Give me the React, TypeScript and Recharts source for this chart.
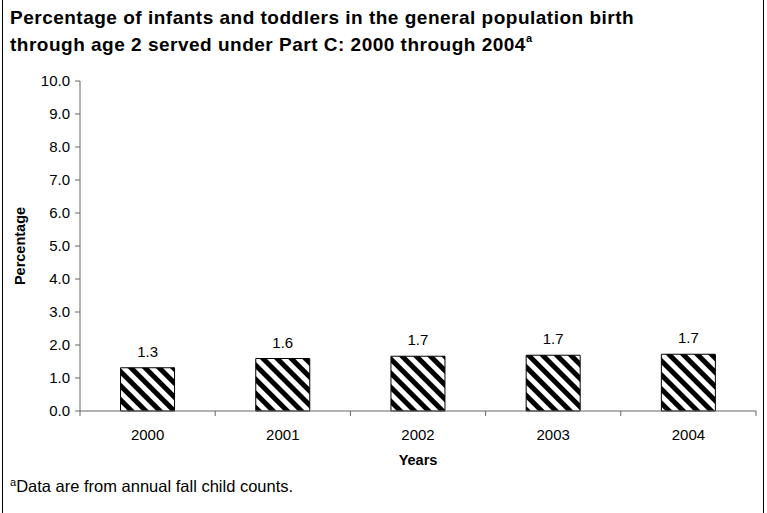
import React from "react";
import { BarChart, Bar, XAxis, YAxis, LabelList } from "recharts";

const years = ["2000", "2001", "2002", "2003", "2004"];
const percentages = [1.31, 1.59, 1.66, 1.69, 1.72];
const yTicks = [0, 1, 2, 3, 4, 5, 6, 7, 8, 9, 10];

const W = 767;
const H = 513;
const PLOT_LEFT = 80;
const PLOT_RIGHT = 756;
const FONT = "'Liberation Sans', Arial, sans-serif";

const data = years.map((year, i) => ({ year, value: percentages[i] }));

const halfBand = (PLOT_RIGHT - PLOT_LEFT) / years.length / 2;

// category ticks sit between the bars, like the original Excel chart
function YearTick(props: any) {
  const { x, y, payload, index } = props;
  const axisY = y - 24;
  return (
    <g>
      <line x1={x - halfBand} y1={axisY} x2={x - halfBand} y2={axisY + 5} stroke="#666" />
      {index === years.length - 1 && (
        <line x1={x + halfBand} y1={axisY} x2={x + halfBand} y2={axisY + 5} stroke="#666" />
      )}
      <text x={x} y={y} dy="0.35em" textAnchor="middle" fontSize={15} fill="#000" fontFamily={FONT}>
        {payload.value}
      </text>
    </g>
  );
}

export default function App() {
  return (
    <div style={{ position: "absolute", left: 0, top: 0, width: W, height: H, background: "#fff", fontFamily: FONT }}>
      <div style={{ position: "absolute", left: 2, top: 0, width: 1, height: H, background: "#000" }} />
      <div style={{ position: "absolute", left: 763, top: 0, width: 1, height: H, background: "#000" }} />
      <div
        style={{
          position: "absolute",
          left: 10,
          top: 4,
          fontSize: 19,
          letterSpacing: 0.5,
          fontWeight: "bold",
          lineHeight: "27px",
          color: "#000",
          whiteSpace: "nowrap",
        }}
      >
        Percentage of infants and toddlers in the general population birth
        <br />
        through age 2 served under Part C: 2000 through 2004
        <sup style={{ fontSize: 11, verticalAlign: "9px", lineHeight: 0 }}>a</sup>
      </div>
      <div style={{ position: "absolute", left: 10, top: 477, fontSize: 16.5, color: "#000", whiteSpace: "nowrap" }}>
        <sup style={{ fontSize: 11, verticalAlign: "6px", lineHeight: 0 }}>a</sup>Data are from annual fall child counts.
      </div>
      <BarChart
        width={W}
        height={H}
        data={data}
        margin={{ top: 81, right: W - PLOT_RIGHT, bottom: 62, left: 20 }}
        barCategoryGap="30%"
        style={{ position: "absolute", left: 0, top: 0 }}
      >
        <defs>
          <pattern id="stripes" patternUnits="userSpaceOnUse" width={10} height={10} patternTransform="rotate(-45)">
            <rect x={0} y={0} width={10} height={10} fill="#fff" />
            <rect x={0} y={0} width={5} height={10} fill="#000" />
          </pattern>
        </defs>
        <XAxis
          dataKey="year"
          height={40}
          stroke="#666"
          tickLine={false}
          tickSize={5}
          tickMargin={19}
          tick={<YearTick />}
          label={(p: any) => {
            const vb = p.viewBox;
            return (
              <text x={vb.x + vb.width / 2} y={460} dy="0.35em" textAnchor="middle" fontSize={14.5} fontWeight="bold" fill="#000" fontFamily={FONT}>
                Years
              </text>
            );
          }}
        />
        <YAxis
          width={60}
          domain={[0, 10]}
          ticks={yTicks}
          interval={0}
          stroke="#666"
          tickSize={5}
          tickMargin={5}
          tickFormatter={(v: number) => v.toFixed(1)}
          tick={{ fill: "#000", fontSize: 15, fontFamily: FONT }}
          label={(p: any) => {
            const vb = p.viewBox;
            const cy = vb.y + vb.height / 2;
            return (
              <text x={20} y={cy} dy="0.35em" textAnchor="middle" transform={`rotate(-90, 20, ${cy})`} fontSize={14.5} fontWeight="bold" fill="#000" fontFamily={FONT}>
                Percentage
              </text>
            );
          }}
        />
        <Bar dataKey="value" fill="url(#stripes)" stroke="#000" strokeWidth={1} isAnimationActive={false}>
          <LabelList
            dataKey="value"
            position="top"
            offset={11}
            formatter={(v: any) => Number(v).toFixed(1)}
            style={{ fill: "#000", fontSize: 15, fontFamily: FONT }}
          />
        </Bar>
      </BarChart>
    </div>
  );
}
